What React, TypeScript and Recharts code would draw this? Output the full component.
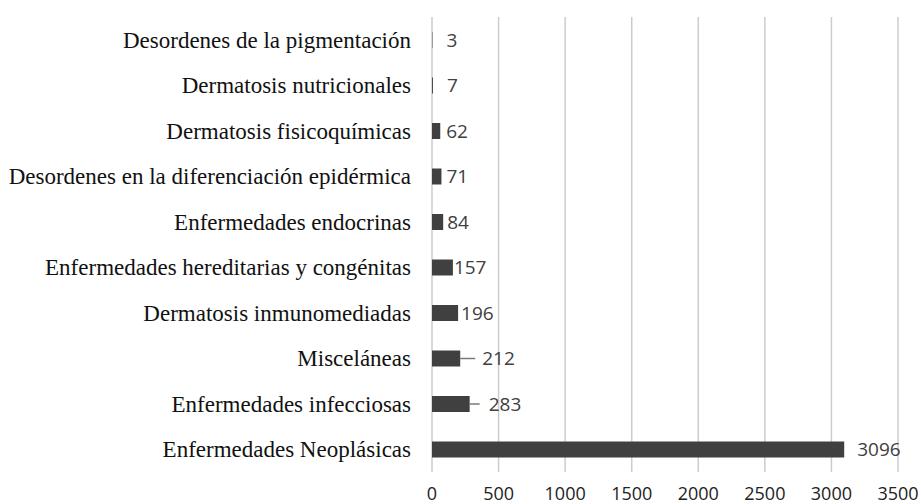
import React from 'react';
import { BarChart, Bar, XAxis, YAxis, CartesianGrid, LabelList } from 'recharts';

const categories = [
  'Desordenes de la pigmentación',
  'Dermatosis nutricionales',
  'Dermatosis fisicoquímicas',
  'Desordenes en la diferenciación epidérmica',
  'Enfermedades endocrinas',
  'Enfermedades hereditarias y congénitas',
  'Dermatosis inmunomediadas',
  'Misceláneas',
  'Enfermedades infecciosas',
  'Enfermedades Neoplásicas',
];

const cases = [3, 7, 62, 71, 84, 157, 196, 212, 283, 3096];

const xTicks = [0, 500, 1000, 1500, 2000, 2500, 3000, 3500];

const data = categories.map((name, i) => ({ name, value: cases[i] }));

// label gap after the bar end, and leader line length (Excel moved some labels by hand)
const labelGap = [14, 14, 6, 5, 4, 1, 3, 22, 19, 13];
const leaderLen = [0, 0, 0, 0, 0, 0, 0, 15, 10, 0];

const ValueLabel = (props: any) => {
  const { x, y, width, height, value, index } = props;
  const end = Number(x) + Number(width);
  const cy = Number(y) + Number(height) / 2;
  const gap = labelGap[index] ?? 4;
  const lead = leaderLen[index] ?? 0;
  return (
    <g>
      {lead > 0 && (
        <line x1={end} y1={cy} x2={end + lead} y2={cy} stroke="#7a7a7a" strokeWidth={1.5} />
      )}
      <text
        x={end + gap}
        y={cy}
        dy="0.35em"
        fill="#404040"
        fontSize={19}
        fontFamily="'Open Sans', sans-serif"
      >
        {value}
      </text>
    </g>
  );
};

export default function App() {
  return (
    <div style={{ position: 'absolute', left: 0, top: 0, background: '#fff' }}>
      <BarChart
        width={921}
        height={504}
        data={data}
        layout="vertical"
        margin={{ top: 17, right: 23, left: 0, bottom: 0 }}
        barCategoryGap={0}
      >
        <CartesianGrid horizontal={false} stroke="#cccccc" strokeWidth={1.5} />
        <XAxis
          type="number"
          domain={[0, 3500]}
          ticks={xTicks}
          axisLine={false}
          tickLine={false}
          height={32}
          tickMargin={9}
          interval={0}
          tick={{ fill: '#222', fontSize: 18, fontFamily: "'Open Sans', sans-serif" }}
        />
        <YAxis
          type="category"
          dataKey="name"
          width={432}
          axisLine={false}
          tickLine={false}
          tickMargin={15}
          interval={0}
          tick={{ fill: '#111', fontSize: 23, fontFamily: "'Liberation Serif', serif" }}
        />
        <Bar dataKey="value" fill="#404040" barSize={16} isAnimationActive={false}>
          <LabelList dataKey="value" content={ValueLabel} />
        </Bar>
      </BarChart>
    </div>
  );
}
